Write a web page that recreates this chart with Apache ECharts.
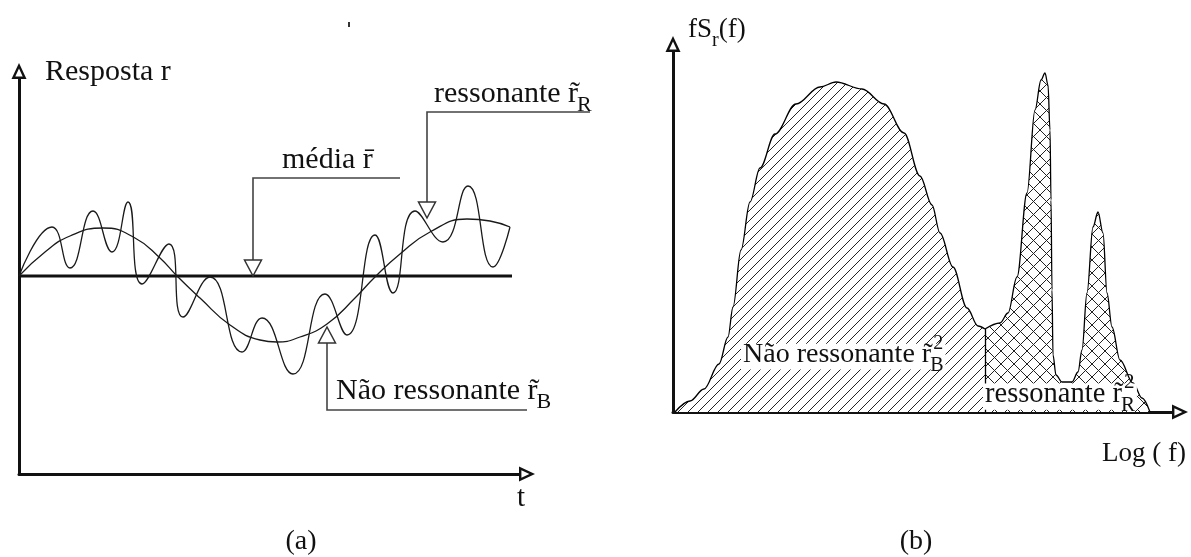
<!DOCTYPE html>
<html>
<head>
<meta charset="utf-8">
<script src="https://cdn.jsdelivr.net/npm/echarts@6/dist/echarts.min.js"></script>
<style>
  html, body { margin: 0; padding: 0; background: #fff; }
  #chart { width: 1191px; height: 557px; }
</style>
</head>
<body>
<div id="chart"></div>
<script>
// (a) Time history: total response r(t) and its slow, non-resonant part
const respT = [0, 33, 51, 74, 93, 109, 123, 150, 164, 191, 223, 243, 274, 306, 328, 356, 374, 396, 424, 449, 474, 491];
const respR = [0, 49, 8, 65, 24, 74, -8, 32, -41, -1, -76, -42, -98, -18, -59, 41, -17, 65, 34, 90, 9, 49];
const bgT = [0, 26, 51, 84, 116, 141, 158, 181, 211, 241, 258, 281, 308, 336, 356, 381, 411, 448, 471, 491];
const bgR = [0, 24, 40, 48, 38, 18, 0, -22, -49, -64, -66, -61, -48, -22, -1, 22, 44, 57, 55, 49];
const mediaT = [0, 493];
const mediaR = [0, 0];

// (b) Spectrum fS_r(f) against log f, split into non-resonant and resonant parts
const logFNaoRes = [2, 17, 31, 46, 55, 60, 68, 77, 87, 102, 123, 147, 163, 189, 211, 231, 247, 259, 267, 280, 294, 305, 312];
const fsNaoRes = [0, 11, 23, 48, 75, 105, 162, 210, 244, 278, 308, 325, 330, 323, 308, 279, 236, 207, 179, 145, 104, 86, 83];
const logFRes = [312, 327, 335, 344, 354, 362, 368, 372, 375, 377, 378, 379, 380, 383, 389, 399, 405, 409, 414, 420, 425, 430, 434, 439, 447, 460, 469, 477];
const fsRes = [83, 89, 99, 135, 219, 302, 332, 339, 327, 282, 212, 122, 57, 37, 30, 30, 40, 62, 119, 185, 200, 179, 119, 85, 52, 29, 14, 0];

// Callout anchors in (t, r) units: arrow tip, height of the elbow, end of the leader
const callouts = [
  { t: 234, r: 0, elbowR: 98, endT: 381 },     // média
  { t: 408, r: 58, elbowR: 164, endT: 571 },   // ressonante
  { t: 308, r: -51, elbowR: -134, endT: 508 }  // não ressonante
];

const INK = '#111';
const FONT = '"Liberation Serif", "Times New Roman", serif';

// hollow triangular arrow head used at the axis ends
const ARROW = 'path://M7.5,0 L15,16 L0,16 Z M7.5,5.6 L3.8,13.6 L11.2,13.6 Z';

function hatchTile(size, cross) {
  const c = document.createElement('canvas');
  c.width = size; c.height = size;
  const g = c.getContext('2d');
  g.fillStyle = '#fff';
  g.fillRect(0, 0, size, size);
  g.strokeStyle = '#222';
  g.lineWidth = 1;
  g.beginPath();
  g.moveTo(-1, size + 1); g.lineTo(size + 1, -1);
  g.moveTo(-1, 1); g.lineTo(1, -1);
  g.moveTo(size - 1, size + 1); g.lineTo(size + 1, size - 1);
  if (cross) {
    g.moveTo(-1, -1); g.lineTo(size + 1, size + 1);
    g.moveTo(size - 1, -1); g.lineTo(size + 1, 1);
    g.moveTo(-1, size - 1); g.lineTo(1, size + 1);
  }
  g.stroke();
  return c;
}

function axisPair(grid, xMax, yMin, yMax) {
  const line = {
    show: true, onZero: false,
    lineStyle: { color: INK, width: 3 },
    symbol: ['none', ARROW], symbolSize: [15, 16], symbolOffset: [0, 8]
  };
  const common = {
    type: 'value', gridIndex: grid,
    axisLine: line, axisTick: { show: false }, axisLabel: { show: false },
    splitLine: { show: false }
  };
  return [
    Object.assign({}, common, { min: 0, max: xMax }),
    Object.assign({}, common, { min: yMin, max: yMax })
  ];
}

const zip = (xs, ys) => xs.map((x, i) => [x, ys[i]]);

const axA = axisPair(0, 500, -198, 197);
const axB = axisPair(1, 499, 0, 360);

const chart = echarts.init(document.getElementById('chart'), null, { renderer: 'canvas' });

chart.setOption({
  animation: false,
  backgroundColor: '#fff',
  grid: [
    { left: 19, top: 79, width: 500, height: 395 },
    { left: 673, top: 52, width: 499, height: 360 }
  ],
  xAxis: [axA[0], axB[0]],
  yAxis: [axA[1], axB[1]],
  series: [
    {
      name: 'média', type: 'line', xAxisIndex: 0, yAxisIndex: 0,
      data: zip(mediaT, mediaR), symbol: 'none',
      lineStyle: { color: INK, width: 3 }, z: 3
    },
    {
      name: 'não ressonante', type: 'line', xAxisIndex: 0, yAxisIndex: 0,
      data: zip(bgT, bgR), symbol: 'none', smooth: 0.5,
      lineStyle: { color: '#1a1a1a', width: 1.3 }
    },
    {
      name: 'resposta', type: 'line', xAxisIndex: 0, yAxisIndex: 0,
      data: zip(respT, respR), symbol: 'none', smooth: 0.5,
      lineStyle: { color: '#1a1a1a', width: 1.3 }
    },
    {
      name: 'espectro não ressonante', type: 'line', xAxisIndex: 1, yAxisIndex: 1,
      data: zip(logFNaoRes, fsNaoRes), symbol: 'none', smooth: 0.35, smoothMonotone: 'x',
      lineStyle: { color: '#000', width: 1.3 },
      areaStyle: { color: { image: hatchTile(10, false), repeat: 'repeat' }, opacity: 1 }
    },
    {
      name: 'espectro ressonante', type: 'line', xAxisIndex: 1, yAxisIndex: 1,
      data: zip(logFRes, fsRes), symbol: 'none', smooth: 0.35, smoothMonotone: 'x',
      lineStyle: { color: '#000', width: 1.3 },
      areaStyle: { color: { image: hatchTile(13, true), repeat: 'repeat' }, opacity: 1 },
      markLine: {
        silent: true, symbol: ['none', 'none'], label: { show: false },
        lineStyle: { color: '#000', width: 1.3, type: 'solid' },
        data: [[{ coord: [logFRes[0], 0] }, { coord: [logFRes[0], fsRes[0]] }]]
      }
    }
  ]
});

// ---- annotations ----
const meas = document.createElement('canvas').getContext('2d');
function width(str, size) {
  meas.font = size + 'px ' + FONT;
  return meas.measureText(str).width;
}
const gfx = [];
function txt(str, x, base, size, align) {
  gfx.push({
    type: 'text', z: 110, silent: true,
    style: {
      text: str, x: x, y: base - 0.3375 * size,
      font: size + 'px ' + FONT, fill: INK,
      align: align || 'left', verticalAlign: 'middle'
    }
  });
}
// main text followed by a subscript and, optionally, a superscript stacked above it
function label(x, base, size, main, sub, sup, whiteBox) {
  const w = width(main, size);
  const ss = Math.round(size * 0.72);
  const subW = sub ? width(sub, ss) : 0;
  if (whiteBox) {
    gfx.push({
      type: 'rect', z: 105, silent: true,
      shape: { x: x - 2, y: base - 0.72 * size, width: w + subW + 3, height: 0.92 * size },
      style: { fill: '#fff' }
    });
  }
  txt(main, x, base, size);
  if (sub) txt(sub, x + w - 1, base + 0.3 * size, ss);
  if (sup) txt(sup, x + w + 2, base - 0.5 * size, ss);
}

const px = (p) => chart.convertToPixel({ gridIndex: 0 }, p);
callouts.forEach((c) => {
  const tip = px([c.t, c.r]);
  const elbow = px([c.t, c.elbowR]);
  const end = px([c.endT, c.elbowR]);
  const dir = tip[1] > elbow[1] ? 1 : -1;
  const h = 16, w = 17;
  const baseY = tip[1] - dir * h;
  gfx.push({
    type: 'polyline', z: 100, silent: true,
    shape: { points: [[tip[0], baseY], elbow, end] },
    style: { stroke: '#444', lineWidth: 1.6, fill: null }
  });
  gfx.push({
    type: 'polygon', z: 100, silent: true,
    shape: { points: [tip, [tip[0] - w / 2, baseY], [tip[0] + w / 2, baseY]] },
    style: { stroke: '#333', lineWidth: 1.5, fill: 'none' }
  });
});

// panel (a) texts
txt('Resposta r', 45, 82, 30);
txt('média r\u0304', 282, 170, 30);
label(434, 104, 30, 'ressonante r\u0303', 'R');
label(336, 401, 30, 'Não ressonante r\u0303', 'B');
txt('t', 517, 508, 29);
txt('(a)', 301, 551, 28, 'center');
gfx.push({ type: 'rect', z: 110, silent: true, shape: { x: 348, y: 22, width: 2, height: 5 }, style: { fill: '#333' } });

// panel (b) texts
(function () {
  const s = 27;
  const w1 = width('fS', s);
  txt('fS', 688, 39, s);
  txt('r', 688 + w1, 39 + 0.3 * s, 20);
  txt('(f)', 688 + w1 + width('r', 20), 39, s);
})();
label(743, 364, 28, 'Não ressonante r\u0303', 'B', '2', true);
label(985, 404, 28.5, 'ressonante r\u0303', 'R', '2', true);
txt('Log ( f)', 1102, 463, 27);
txt('(b)', 916, 551, 28, 'center');

chart.setOption({ graphic: { elements: gfx } });
</script>
</body>
</html>
